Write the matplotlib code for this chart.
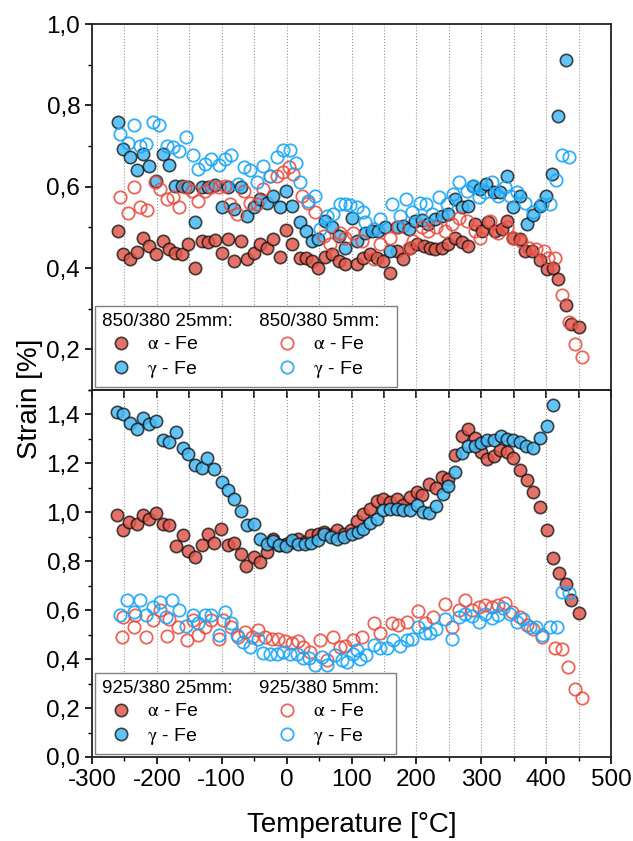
import matplotlib
matplotlib.use('Agg')
import matplotlib.pyplot as plt
from matplotlib.ticker import MultipleLocator, FuncFormatter

plt.rcParams['font.family'] = ['Liberation Sans', 'DejaVu Sans']
plt.rcParams['mathtext.fontset'] = 'stix'
plt.rcParams['axes.unicode_minus'] = False

# ---- 850/380 (top panel) ----
t_a25_top = [-260, -252, -241, -231, -222, -212, -201, -191, -181, -172, -162, -152, -141, -131, -121, -110, -100, -91,
             -81, -70, -61, -51, -41, -31, -21, -10, -1, 9, 20, 30, 39, 49, 59, 70, 80, 90,
             108, 118, 129, 139, 149, 159, 170, 180, 190, 201, 211, 221, 229, 239, 249, 260, 270, 280,
             290, 301, 311, 321, 332, 339, 349, 360, 368, 378, 391, 401, 411, 419, 430, 439, 450]
s_a25_top = [0.491, 0.434, 0.421, 0.440, 0.475, 0.454, 0.434, 0.467, 0.446, 0.438, 0.435, 0.460, 0.399, 0.467, 0.463,
             0.468, 0.438, 0.471, 0.416, 0.467, 0.421, 0.438, 0.458, 0.449, 0.472, 0.427, 0.494, 0.458, 0.425, 0.424,
             0.416, 0.401, 0.427, 0.434, 0.416, 0.409,
             0.409, 0.425, 0.434, 0.425, 0.417, 0.388, 0.442, 0.421, 0.450, 0.458, 0.454, 0.449, 0.446, 0.450,
             0.458, 0.475, 0.463, 0.454, 0.508, 0.491, 0.512, 0.491, 0.496, 0.516, 0.473, 0.471, 0.442, 0.442,
             0.419, 0.397, 0.401, 0.372, 0.310, 0.262, 0.255]

t_g25_top = [-260, -252, -241, -231, -222, -212, -201, -191, -181, -172, -162, -152, -141, -131, -121, -110, -100, -91,
             -81, -70, -61, -51, -41, -31, -21, -10, -1, 9, 20, 30, 39, 49, 59, 70, 80, 90,
             101, 108, 121, 131, 141, 152, 159, 170, 180, 188, 198, 208, 218, 229, 239, 249, 260, 270, 280,
             288, 298, 308, 319, 329, 339, 349, 360, 370, 379, 390, 400, 409, 419, 430]
s_g25_top = [0.760, 0.693, 0.672, 0.640, 0.681, 0.652, 0.615, 0.681, 0.654, 0.602, 0.602, 0.598, 0.514, 0.598, 0.598,
             0.605, 0.551, 0.598, 0.545, 0.598, 0.528, 0.549, 0.570, 0.561, 0.578, 0.549, 0.590, 0.553, 0.514, 0.490,
             0.467, 0.471, 0.516, 0.500, 0.479, 0.450,
             0.524, 0.467, 0.487, 0.491, 0.491, 0.500, 0.442, 0.500, 0.504, 0.496, 0.516, 0.518, 0.508, 0.520,
             0.528, 0.533, 0.570, 0.549, 0.553, 0.602, 0.594, 0.607, 0.586, 0.586, 0.627, 0.551, 0.578, 0.508,
             0.531, 0.553, 0.578, 0.630, 0.773, 0.911]

t_a5_top = [-257, -244, -236, -226, -215, -203, -195, -185, -175, -166, -157, -146, -136, -126, -116, -105, -95, -87,
            -77, -66, -57, -46, -36, -26, -15, -5, 3, 10, 23, 33, 44, 57, 67, 82, 90, 103, 116, 134, 144, 159,
            172, 188, 195, 208, 218, 231, 244, 255, 265, 278, 290, 298, 314, 326, 339, 349, 362, 373, 385, 396,
            403, 414, 425, 435, 445, 455]
s_a5_top = [0.575, 0.535, 0.598, 0.549, 0.542, 0.611, 0.594, 0.570, 0.574, 0.549, 0.598, 0.590, 0.565, 0.590, 0.600,
            0.598, 0.602, 0.557, 0.533, 0.590, 0.561, 0.557, 0.594, 0.627, 0.627, 0.635, 0.648, 0.631, 0.578, 0.561,
            0.537, 0.479, 0.458, 0.487, 0.473, 0.487, 0.467, 0.421, 0.458, 0.475, 0.500, 0.450, 0.467, 0.500, 0.491,
            0.500, 0.491, 0.508, 0.524, 0.516, 0.491, 0.475, 0.516, 0.487, 0.500, 0.475, 0.467, 0.450, 0.446, 0.442,
            0.425, 0.424, 0.333, 0.267, 0.213, 0.182]

t_g5_top = [-257, -244, -236, -226, -216, -206, -196, -185, -175, -166, -155, -145, -136, -126, -116, -105, -95, -85,
            -75, -66, -56, -46, -36, -26, -15, -5, 5, 15, 21, 33, 44, 52, 62, 72, 82, 90, 98, 108, 118, 121,
            134, 144, 162, 174, 184, 193, 205, 215, 224, 235, 247, 257, 265, 278, 288, 296, 306, 316, 326, 337,
            344, 355, 367, 380, 393, 406, 415, 424, 436]
s_g5_top = [0.730, 0.707, 0.751, 0.701, 0.705, 0.759, 0.751, 0.699, 0.697, 0.687, 0.722, 0.677, 0.644, 0.656, 0.668,
            0.654, 0.668, 0.677, 0.607, 0.648, 0.640, 0.611, 0.652, 0.627, 0.672, 0.689, 0.691, 0.658, 0.611, 0.565,
            0.578, 0.496, 0.528, 0.533, 0.557, 0.557, 0.555, 0.549, 0.537, 0.512, 0.496, 0.520, 0.557, 0.528, 0.570,
            0.537, 0.559, 0.557, 0.533, 0.574, 0.557, 0.582, 0.611, 0.590, 0.602, 0.574, 0.586, 0.611, 0.578, 0.598,
            0.578, 0.586, 0.561, 0.537, 0.557, 0.557, 0.617, 0.677, 0.674]

# ---- 925/380 (bottom panel) ----
t_a25_bot = [-261, -252, -243, -231, -222, -212, -201, -191, -181, -171, -160, -152, -141, -131, -121, -112, -101, -91,
             -81, -71, -62, -51, -41, -31, -21, -11, -1, 8, 18, 28, 38, 48, 58, 68, 78, 88,
             99, 108, 118, 129, 139, 149, 159, 170, 180, 190, 201, 208, 220, 230, 239, 249, 260, 270, 280, 290,
             299, 309, 320, 329, 339, 349, 360, 370, 380, 391, 401, 410, 420, 431, 439, 450]
s_a25_bot = [0.988, 0.927, 0.961, 0.951, 0.988, 0.974, 0.997, 0.951, 0.947, 0.861, 0.906, 0.842, 0.818, 0.865, 0.910,
             0.875, 0.933, 0.865, 0.875, 0.831, 0.780, 0.818, 0.797, 0.838, 0.892, 0.865, 0.869, 0.879, 0.892, 0.879,
             0.906, 0.913, 0.920, 0.906, 0.927, 0.913,
             0.927, 0.964, 0.994, 1.015, 1.046, 1.056, 1.042, 1.056, 1.029, 1.062, 1.083, 1.069, 1.114, 1.101,
             1.144, 1.137, 1.233, 1.314, 1.341, 1.305, 1.246, 1.219, 1.229, 1.253, 1.246, 1.223, 1.174, 1.131,
             1.083, 1.022, 0.929, 0.815, 0.752, 0.709, 0.641, 0.590]

t_g25_bot = [-262, -252, -241, -231, -222, -212, -201, -191, -181, -171, -160, -152, -141, -131, -122, -112, -100, -91,
             -81, -70, -61, -51, -41, -31, -21, -11, -1, 8, 18, 28, 38, 48, 58, 68, 78, 88,
             100, 110, 118, 129, 139, 149, 159, 170, 180, 190, 201, 210, 220, 230, 241, 249, 260, 270, 280, 290,
             299, 309, 320, 330, 339, 349, 360, 369, 379, 391, 401, 410]
s_g25_bot = [1.409, 1.403, 1.365, 1.341, 1.386, 1.359, 1.373, 1.297, 1.287, 1.328, 1.264, 1.240, 1.192, 1.182, 1.223,
             1.178, 1.124, 1.093, 1.056, 1.004, 0.947, 0.951, 0.893, 0.872, 0.883, 0.865, 0.861, 0.888, 0.869, 0.872,
             0.876, 0.888, 0.913, 0.899, 0.892, 0.899,
             0.910, 0.920, 0.933, 0.956, 0.974, 1.008, 1.015, 1.015, 1.008, 1.008, 1.029, 1.001, 0.997, 1.024,
             1.076, 1.106, 1.165, 1.242, 1.273, 1.273, 1.283, 1.294, 1.294, 1.314, 1.301, 1.297, 1.287, 1.273,
             1.264, 1.305, 1.351, 1.437]

t_a5_bot = [-254, -252, -236, -234, -216, -206, -195, -185, -181, -167, -154, -144, -136, -126, -116, -105, -98, -85,
            -75, -64, -54, -44, -33, -23, -13, -3, 8, 18, 26, 36, 52, 62, 72, 82, 90, 103, 116, 134, 144, 162,
            172, 185, 203, 213, 226, 244, 255, 265, 275, 285, 296, 306, 316, 326, 337, 347, 360, 370, 380, 393,
            414, 424, 434, 445, 455]
s_a5_bot = [0.489, 0.573, 0.532, 0.580, 0.491, 0.559, 0.600, 0.494, 0.566, 0.532, 0.478, 0.559, 0.498, 0.532, 0.559,
            0.484, 0.559, 0.532, 0.491, 0.511, 0.491, 0.521, 0.491, 0.484, 0.484, 0.475, 0.464, 0.475, 0.450, 0.430,
            0.478, 0.396, 0.491, 0.450, 0.454, 0.478, 0.491, 0.548, 0.505, 0.546, 0.539, 0.552, 0.597, 0.546, 0.573,
            0.627, 0.532, 0.600, 0.641, 0.600, 0.614, 0.620, 0.614, 0.620, 0.630, 0.593, 0.573, 0.539, 0.525, 0.491,
            0.444, 0.440, 0.366, 0.276, 0.242]

t_g5_bot = [-257, -246, -236, -226, -216, -206, -195, -186, -176, -166, -155, -145, -136, -126, -116, -105, -95, -85,
            -77, -67, -57, -44, -36, -26, -15, -5, 5, 16, 26, 35, 44, 54, 63, 75, 85, 93, 103, 108, 113, 123,
            134, 144, 154, 164, 174, 185, 194, 203, 213, 221, 231, 244, 255, 265, 275, 285, 296, 306, 316, 326,
            334, 344, 355, 365, 375, 385, 393, 406, 416, 424, 436]
s_g5_bot = [0.580, 0.641, 0.593, 0.641, 0.580, 0.614, 0.634, 0.573, 0.641, 0.600, 0.535, 0.580, 0.546, 0.580, 0.580,
            0.498, 0.593, 0.546, 0.498, 0.471, 0.450, 0.484, 0.426, 0.420, 0.420, 0.430, 0.423, 0.423, 0.403, 0.403,
            0.376, 0.409, 0.376, 0.416, 0.396, 0.389, 0.423, 0.437, 0.399, 0.416, 0.457, 0.444, 0.444, 0.478, 0.453,
            0.478, 0.484, 0.532, 0.505, 0.507, 0.525, 0.566, 0.484, 0.573, 0.586, 0.576, 0.552, 0.586, 0.570, 0.580,
            0.607, 0.586, 0.552, 0.566, 0.532, 0.532, 0.498, 0.532, 0.532, 0.675, 0.672]

red_fill = (0.88, 0.35, 0.30, 0.85)
blue_fill = (0.28, 0.73, 0.96, 0.85)
dark_edge = (0.05, 0.05, 0.05, 0.75)
red_open = (0.91, 0.29, 0.24, 0.85)
blue_open = (0.10, 0.65, 0.97, 0.9)
ms = 8.9

comma = FuncFormatter(lambda v, p: f'{v:.1f}'.replace('.', ','))

fig = plt.figure(figsize=(6.33, 8.41), dpi=100)
W, H = 633, 841
ax1 = fig.add_axes([92 / W, 1 - 390 / H, 519 / W, 366 / H])
ax2 = fig.add_axes([92 / W, 1 - 757 / H, 519 / W, 367 / H])
ax2.patch.set_visible(False)


def draw(ax, ta25, sa25, tg25, sg25, ta5, sa5, tg5, sg5, name):
    h1, = ax.plot(ta25, sa25, 'o', ms=ms, mfc=red_fill, mec=dark_edge, mew=1.2, label=r'$\mathrm{\alpha}$ - Fe')
    h2, = ax.plot(tg25, sg25, 'o', ms=ms, mfc=blue_fill, mec=dark_edge, mew=1.2, label=r'$\mathrm{\gamma}$ - Fe')
    h3, = ax.plot(ta5, sa5, 'o', ms=ms, mfc='none', mec=red_open, mew=1.3, label=r'$\mathrm{\alpha}$ - Fe')
    h4, = ax.plot(tg5, sg5, 'o', ms=ms, mfc='none', mec=blue_open, mew=1.3, label=r'$\mathrm{\gamma}$ - Fe')
    leg = ax.legend(handles=[h1, h2, h3, h4], ncol=2, loc='lower left', borderaxespad=0.15,
                    title=f'{name} 25mm:     {name} 5mm:  ', title_fontsize=13.5, alignment='left',
                    fontsize=14, fancybox=False, edgecolor='#808080', framealpha=1,
                    handletextpad=0.35, columnspacing=3.5, labelspacing=0.3, borderpad=0.35, numpoints=1)
    leg.get_frame().set_linewidth(1.0)
    ax.set_xlim(-300, 500)
    ax.xaxis.set_major_locator(MultipleLocator(100))
    ax.xaxis.set_minor_locator(MultipleLocator(50))
    ax.yaxis.set_major_locator(MultipleLocator(0.2))
    ax.yaxis.set_minor_locator(MultipleLocator(0.1))
    ax.yaxis.set_major_formatter(comma)
    ax.grid(True, axis='x', which='both', linestyle=':', color='#9a9a9a', linewidth=0.8)
    ax.set_axisbelow(True)
    for sp in ax.spines.values():
        sp.set_linewidth(1.3)
        sp.set_color('#222222')
    ax.tick_params(axis='y', which='major', direction='out', length=5, width=1.2, labelsize=17.5)
    ax.tick_params(axis='y', which='minor', direction='out', length=3, width=1.0)


draw(ax1, t_a25_top, s_a25_top, t_g25_top, s_g25_top, t_a5_top, s_a5_top, t_g5_top, s_g5_top, '850/380')
draw(ax2, t_a25_bot, s_a25_bot, t_g25_bot, s_g25_bot, t_a5_bot, s_a5_bot, t_g5_bot, s_g5_bot, '925/380')

ax1.set_ylim(0.1, 1.0)
ax2.set_ylim(0.0, 1.5)

# top panel: ticks at the bottom edge point down into the lower panel
ax1.tick_params(axis='x', which='both', direction='out', length=5.5, width=1.2, labelbottom=False)
ax2.tick_params(axis='x', which='major', direction='out', length=5, width=1.2, labelsize=17.5)
ax2.tick_params(axis='x', which='minor', direction='out', length=3, width=1.0)

fig.text(30 / W, 1 - 399 / H, 'Strain [%]', rotation=90, ha='center', va='center', fontsize=20)
fig.text(351.5 / W, 1 - 825 / H, 'Temperature [°C]', ha='center', va='center', fontsize=20)

fig.savefig('out.png', dpi=100, facecolor='white')
